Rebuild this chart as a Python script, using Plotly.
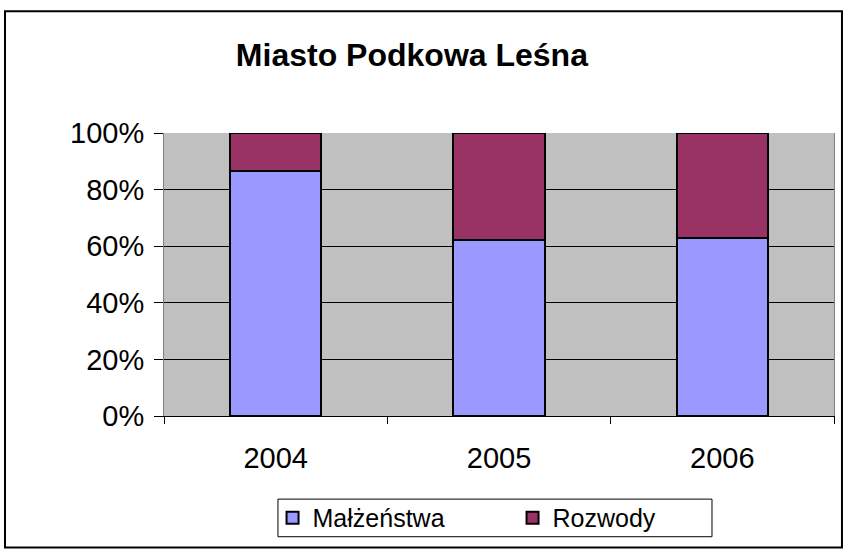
import plotly.graph_objs as go

years = ["2004", "2005", "2006"]
malzenstwa = [86.5, 62.2, 62.9]
rozwody = [13.5, 37.8, 37.1]

font_family = "Liberation Sans, Arial, sans-serif"

fig = go.Figure()
fig.add_trace(go.Bar(name="Małżeństwa", x=years, y=malzenstwa, width=0.41,
                     marker=dict(color="#9999FF", line=dict(color="black", width=2))))
fig.add_trace(go.Bar(name="Rozwody", x=years, y=rozwody, width=0.41,
                     marker=dict(color="#993366", line=dict(color="black", width=2))))

fig.update_layout(
    width=844, height=551,
    margin=dict(l=164, r=10, t=133, b=132),
    barmode="stack",
    paper_bgcolor="white",
    plot_bgcolor="#C0C0C0",
    font=dict(family=font_family, color="black"),
    title=dict(text="<b>Miasto Podkowa Leśna</b>", x=0.37, xref="paper", xanchor="center",
               y=0.9, yanchor="middle", font=dict(size=32)),
    legend=dict(orientation="h", x=0.162, xanchor="left", y=-0.36, yanchor="middle",
                borderwidth=0, font=dict(size=25), bgcolor="rgba(0,0,0,0)",
                traceorder="normal", entrywidth=195),
    showlegend=True,
)

fig.update_xaxes(showline=True, linecolor="black", linewidth=1, ticks="outside",
                 tickson="boundaries", ticklen=7, tickcolor="black",
                 tickfont=dict(size=29), ticklabelstandoff=16, showgrid=False)
fig.update_yaxes(range=[0, 100], dtick=20, ticksuffix="%", showline=True, linecolor="#808080",
                 mirror=True, ticks="outside", ticklen=9, tickcolor="black",
                 tickfont=dict(size=29), ticklabelstandoff=4,
                 showgrid=True, gridcolor="black", gridwidth=1, zeroline=False)

# outer chart border
fig.add_shape(type="rect", xref="paper", yref="paper", x0=-0.2373, x1=1.0119, y0=-0.465, y1=1.43,
              line=dict(color="black", width=2), fillcolor="rgba(0,0,0,0)")
# legend frame
fig.add_shape(type="rect", xref="paper", yref="paper", x0=0.1701, x1=0.8179, y0=-0.4266, y1=-0.2937,
              line=dict(color="black", width=1), fillcolor="rgba(0,0,0,0)")

fig.write_html("out.html", config={"displayModeBar": False},
               post_script="document.body.style.margin='0';")
